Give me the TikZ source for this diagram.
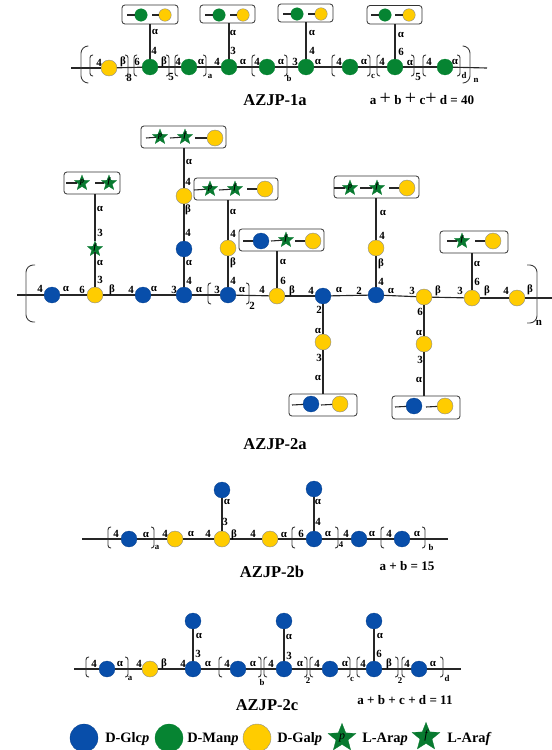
\documentclass[tikz,border=0pt]{standalone}
\usepackage{fontspec}
\setmainfont{Liberation Serif}
\usetikzlibrary{shapes.geometric}
\definecolor{cglc}{RGB}{8,78,170}
\definecolor{cman}{RGB}{6,132,50}
\definecolor{cgal}{RGB}{255,204,0}
\definecolor{cara}{RGB}{8,122,48}
\newcommand{\stl}[1]{\makebox[0pt][c]{\raisebox{-.2ex}[0pt][0pt]{#1}}}
\tikzset{
  sugar/.style={circle,inner sep=0pt,outer sep=0pt,minimum size=12pt},
  glc/.style={sugar,fill=cglc,draw=cglc!80!black,line width=.2pt},
  man/.style={sugar,fill=cman,draw=cman,line width=.2pt},
  gal/.style={sugar,fill=cgal,draw=black!45,line width=.3pt},
  sm/.style={minimum size=9.4pt},
  ara/.style={star,star points=5,star point ratio=2.3,inner sep=0pt,outer sep=0pt,minimum size=12pt,fill=cara,draw=cara,line width=.2pt,text=black,font=\fontsize{6pt}{6pt}\itshape\bfseries\selectfont},
  bond/.style={line width=.85pt,black!85},
  stub/.style={line width=.8pt,black!85},
  brk/.style={line width=.7pt,black!80,rounded corners=2pt},
  obrk/.style={line width=.7pt,black!75,rounded corners=5.5pt},
  boxst/.style={draw=black!80,line width=.6pt,rounded corners=2.2pt,fill=white,inner sep=0pt,outer sep=0pt},
  lab/.style={inner sep=0pt,font=\fontsize{8.2pt}{9pt}\bfseries\selectfont},
  slab/.style={inner sep=0pt,font=\fontsize{6.6pt}{7pt}\bfseries\selectfont},
  ttl/.style={inner sep=0pt,font=\fontsize{12.4pt}{14pt}\bfseries\selectfont},
  fml/.style={inner sep=0pt,font=\fontsize{9.8pt}{11pt}\bfseries\selectfont},
  leg/.style={inner sep=0pt,anchor=west,font=\fontsize{10.8pt}{12pt}\bfseries\selectfont},
}
\newcommand{\bxx}[5]{\node[boxst,minimum width={(#4-#2)*0.75pt},minimum height={(#5-#3)*0.75pt}] (#1) at ({(#2+#4)/2},{(#3+#5)/2}) {};}
\newcommand{\stb}[4]{\coordinate (#1) at (#2,#3); \draw[stub] (#1) -- (#4);}
\newcommand{\bl}[3]{\draw[brk] (#1+3,#2) -- (#1,#2) -- (#1,#3) -- (#1+3,#3);}
\newcommand{\br}[3]{\draw[brk] (#1-3,#2) -- (#1,#2) -- (#1,#3) -- (#1-3,#3);}
\newcommand{\bpl}{{\fontsize{15pt}{15pt}\selectfont\mdseries\,+\,}}
\begin{document}
\begin{tikzpicture}[x=0.75pt,y=-0.75pt]
\useasboundingbox (0,0) rectangle (552,750);
% ---------- AZJP-1a
\coordinate (as) at (71,68); \coordinate (ae) at (487,68);
\node[gal] (a1) at (109,68) {};
\node[man] (a2) at (150,67) {};
\node[man] (a3) at (189,67) {};
\node[man] (a4) at (229,67) {};
\node[man] (a5) at (267,67) {};
\node[man] (a6) at (306,67) {};
\node[man] (a7) at (350,67) {};
\node[man] (a8) at (395,67) {};
\node[man] (a9) at (445,67) {};
\foreach \p/\q in {as/a1,a1/a2,a2/a3,a3/a4,a4/a5,a5/a6,a6/a7,a7/a8,a8/a9,a9/ae} \draw[bond] (\p) -- (\q);
\bxx{ab1}{122}{5}{178}{24}
\node[man,sm] (ab1a) at (141,15) {}; \node[gal,sm] (ab1b) at (165,15) {};
\stb{ab1c}{127}{15}{ab1a}\stb{ab1d}{152}{15}{ab1b}
\bxx{ab2}{200}{5}{255}{23}
\node[man,sm] (ab2a) at (219,15) {}; \node[gal,sm] (ab2b) at (243,15) {};
\stb{ab2c}{205}{15}{ab2a}\stb{ab2d}{230}{15}{ab2b}
\bxx{ab3}{278}{4}{333}{22}
\node[man,sm] (ab3a) at (297,14) {}; \node[gal,sm] (ab3b) at (321,14) {};
\stb{ab3c}{283}{14}{ab3a}\stb{ab3d}{308}{14}{ab3b}
\bxx{ab4}{367}{5.5}{422}{24}
\node[man,sm] (ab4a) at (385,15) {}; \node[gal,sm] (ab4b) at (409,15) {};
\stb{ab4c}{371}{15}{ab4a}\stb{ab4d}{395}{15}{ab4b}
\draw[bond] (a2) -- (a2|-ab1.south);
\draw[bond] (a4) -- (a4|-ab2.south);
\draw[bond] (a6) -- (a6|-ab3.south);
\draw[bond] (a8) -- (a8|-ab4.south);
\foreach \x/\y/\t in {99/63/4,123/62/β,137/62/6,154/51/4,155/32/α,164/62/β,178/62/4,201/62/α,217/62/4,243/62/α,257/62/4,281/62/α,295/62/3,233/33/α,233/51/3,312/33/α,312/51/4,318/62/α,339/62/4,364/62/α,382/62/4,401/52/6,401/35/α,410/63/α,429/62/4,455/62/α,129/78/8,171/77/5,418/77/5}
  \node[lab] (la\x-\y) at (\x,\y) {\t};
\foreach \x/\y/\t in {210/76/a,289/78/b,373/76/c,464/75/d,476/80/n}
  \node[slab] (la\x-\y) at (\x,\y) {\t};
\foreach \x in {90,134,175,252,332,377,423} {\bl{\x}{55}{76}}
\foreach \x in {128,169,206,287,370,414,460} {\br{\x}{55}{76}}
\draw[obrk] (88,46) -- (81,46) -- (81,83) -- (88,83);
\draw[obrk] (463,46) -- (470,46) -- (470,83) -- (463,83);
\node[ttl] (ta) at (275,100) {AZJP-1a};
\node[fml] (fa) at (422,99) {a\bpl b\bpl c{\fontsize{15pt}{15pt}\selectfont\mdseries +} d = 40};
% ---------- AZJP-2a
\coordinate (bs) at (17,295); \coordinate (be) at (552,298);
\node[glc] (b1) at (52,295) {};
\node[gal] (b2) at (95,295) {};
\node[glc] (b3) at (143,295) {};
\node[glc] (b4) at (184,295) {};
\node[glc] (b5) at (228,295) {};
\node[gal] (b6) at (277,296) {};
\node[glc] (b7) at (323,296) {};
\node[glc] (b8) at (376,295) {};
\node[gal] (b9) at (424,297) {};
\node[gal] (b10) at (472,298) {};
\node[gal] (b11) at (517,298) {};
\foreach \p/\q in {bs/b1,b1/b2,b2/b3,b3/b4,b4/b5,b5/b6,b6/b7,b7/b8,b8/b9,b9/b10,b10/b11,b11/be} \draw[bond] (\p) -- (\q);
% branch at b2
\node[ara] (c1) at (95,249) {\stl{f}};
\bxx{bb1}{64}{172}{120}{194}
\node[ara] (bb1a) at (82,183) {\stl{p}}; \node[ara] (bb1b) at (109,183) {\stl{f}};
\stb{bb1c}{66}{183}{bb1a}\stb{bb1d}{95}{183}{bb1b}
\draw[bond] (b2) -- (c1); \draw[bond] (c1) -- (c1|-bb1.south);
% branch at b4
\node[glc] (c2) at (184,249) {};
\node[gal] (c3) at (184,196) {};
\bxx{bb2}{141}{126}{226}{148}
\node[ara] (bb2a) at (160,137) {\stl{p}}; \node[ara] (bb2b) at (185,137) {\stl{f}}; \node[gal] (bb2e) at (215,138) {};
\stb{bb2c}{146}{138}{bb2a}\stb{bb2d}{170}{138}{bb2b}\stb{bb2f}{195}{138}{bb2e}
\draw[bond] (b4) -- (c2); \draw[bond] (c2) -- (c3); \draw[bond] (c3) -- (c3|-bb2.south);
% branch at b5
\node[gal] (c4) at (228,248) {};
\bxx{bb3}{194}{178}{278}{200}
\node[ara] (bb3a) at (210,189) {\stl{p}}; \node[ara] (bb3b) at (235,189) {\stl{f}}; \node[gal] (bb3e) at (265,189) {};
\stb{bb3c}{194}{190}{bb3a}\stb{bb3d}{219}{190}{bb3b}\stb{bb3f}{247}{189}{bb3e}
\draw[bond] (b5) -- (c4); \draw[bond] (c4) -- (c4|-bb3.south);
% branch at b6
\bxx{bb4}{239}{229}{324}{251}
\node[glc] (bb4a) at (261,241) {}; \node[ara] (bb4b) at (286,240) {\stl{f}}; \node[gal] (bb4e) at (313,241) {};
\stb{bb4c}{243}{241}{bb4a}\stb{bb4d}{271}{241}{bb4b}\stb{bb4f}{295}{241}{bb4e}
\draw[bond] (b6) -- (b6|-bb4.south);
% branch at b8
\node[gal] (c5) at (376,248) {};
\bxx{bb5}{334}{176}{419}{198}
\node[ara] (bb5a) at (350,188) {\stl{p}}; \node[ara] (bb5b) at (377,188) {\stl{f}}; \node[gal] (bb5e) at (407,188) {};
\stb{bb5c}{334}{188}{bb5a}\stb{bb5d}{360}{188}{bb5b}\stb{bb5f}{389}{188}{bb5e}
\draw[bond] (b8) -- (c5); \draw[bond] (c5) -- (c5|-bb5.south);
% branch at b10
\bxx{bb6}{440}{231}{508}{253}
\node[ara] (bb6a) at (462,241) {\stl{f}}; \node[gal] (bb6b) at (493,241) {};
\stb{bb6c}{447}{241}{bb6a}\stb{bb6d}{475}{241}{bb6b}
\draw[bond] (b10) -- (b10|-bb6.south);
% lower branches
\node[gal] (c6) at (323,342) {};
\bxx{bb7}{289}{394}{357}{416}
\node[glc] (bb7a) at (311,404) {}; \node[gal] (bb7b) at (340,404) {};
\stb{bb7c}{292}{405}{bb7a}\stb{bb7d}{321}{405}{bb7b}
\draw[bond] (b7) -- (c6); \draw[bond] (c6) -- (c6|-bb7.north);
\node[gal] (c7) at (424,344) {};
\bxx{bb8}{392}{396}{460}{419}
\node[glc] (bb8a) at (414,406) {}; \node[gal] (bb8b) at (445,406) {};
\stb{bb8c}{395}{407}{bb8a}\stb{bb8d}{426}{407}{bb8b}
\draw[bond] (b9) -- (c7); \draw[bond] (c7) -- (c7|-bb8.north);
\foreach \x/\y/\t in {40/289/4,66/289/α,82/290/6,100/280/3,100/263/α,100/233/3,100/209/α,112/290/β,131/290/4,154/289/α,174/290/3,189/281/4,189/263/α,188/233/4,188/210/β,188/182/4,189/162/α,199/290/α,217/290/3,233/281/4,233/263/β,233/234/4,233/212/α,242/290/α,252/306/2,262/290/4,283/281/6,283/262/α,292/291/β,311/291/4,339/290/α,359/291/2,381/282/4,381/264/β,382/236/4,383/213/α,391/291/α,412/291/3,438/291/β,460/291/3,477/282/6,477/264/α,487/291/β,506/291/4,530/290/β,319/310/2,420/312/6,539/323/n,318/331/α,319/358/3,318/378/α,419/333/α,420/360/3,419/380/α}
  \node[lab] (lb\x-\y) at (\x,\y) {\t};
\bl{208}{283}{304}\br{249}{283}{304}
\draw[obrk] (35,265) -- (26,265) -- (26,322) -- (35,322);
\draw[obrk] (527,265) -- (537,265) -- (537,323) -- (527,323);
\node[ttl] (tb) at (275,444) {AZJP-2a};
% ---------- AZJP-2b
\coordinate (ds) at (82,539); \coordinate (de) at (448,539);
\node[glc] (d1) at (129,539) {};
\node[gal] (d2) at (175,539) {};
\node[gal] (d3) at (222,539) {};
\node[gal] (d4) at (270,539) {};
\node[glc] (d5) at (314,539) {};
\node[glc] (d6) at (359,539) {};
\node[glc] (d7) at (402,539) {};
\node[glc] (d8) at (222,490) {};
\node[glc] (d9) at (314,489) {};
\foreach \p/\q in {ds/d1,d1/d2,d2/d3,d3/d4,d4/d5,d5/d6,d6/d7,d7/de,d3/d8,d5/d9} \draw[bond] (\p) -- (\q);
\foreach \x/\y/\t in {116/534/4,146/535/α,165/534/4,191/534/α,208/534/4,234/535/β,253/534/4,284/535/α,301/534/6,328/534/α,346/534/4,372/534/α,389/534/4,417/534/α,225/522/3,227/502/α,318/522/4,318/502/α}
  \node[lab] (ld\x-\y) at (\x,\y) {\t};
\foreach \x/\y/\t in {157/547/a,341/545/4,431/547/b}
  \node[slab] (ld\x-\y) at (\x,\y) {\t};
\foreach \x in {108,292,381} {\bl{\x}{527}{548}}
\foreach \x in {154,338,425} {\br{\x}{527}{548}}
\node[ttl] (td) at (272,572) {AZJP-2b};
\node[fml] (fd) at (407,566) {a + b = 15};
% ---------- AZJP-2c
\coordinate (es) at (74,669); \coordinate (ee) at (461,669);
\node[glc] (e1) at (107,669) {};
\node[gal] (e2) at (150,669) {};
\node[glc] (e3) at (193,669) {};
\node[glc] (e4) at (238,669) {};
\node[glc] (e5) at (284,669) {};
\node[glc] (e6) at (330,669) {};
\node[glc] (e7) at (374,669) {};
\node[glc] (e8) at (419,669) {};
\node[glc] (e9) at (193,621) {};
\node[glc] (e10) at (284,621) {};
\node[glc] (e11) at (374,621) {};
\foreach \p/\q in {es/e1,e1/e2,e2/e3,e3/e4,e4/e5,e5/e6,e6/e7,e7/e8,e8/ee,e3/e9,e5/e10,e7/e11} \draw[bond] (\p) -- (\q);
\foreach \x/\y/\t in {94/664/4,120/664/α,139/664/4,164/664/β,183/664/4,198/654/3,199/636/α,208/664/α,227/664/4,253/664/α,271/664/4,289/656/3,289/637/α,300/664/α,317/664/4,345/664/α,363/664/4,379/654/6,380/636/α,389/664/β,407/664/4,433/664/α}
  \node[lab] (le\x-\y) at (\x,\y) {\t};
\foreach \x/\y/\t in {130/678/a,262/682/b,308/681/2,352/679/c,400/681/2,447/678/d}
  \node[slab] (le\x-\y) at (\x,\y) {\t};
\foreach \x in {86,219,264,310,357,402} {\bl{\x}{657}{677}}
\foreach \x in {128,261,307,350,398,443} {\br{\x}{657}{677}}
\node[ttl] (te) at (267,705) {AZJP-2c};
\node[fml] (fe) at (405,700) {a + b + c + d = 11};
% ---------- legend
\node[glc,minimum size=21pt] (k1) at (84,738) {};
\node[leg] (k1t) at (105,739) {D-Glc\textit{p}};
\node[man,minimum size=21pt] (k2) at (169,738) {};
\node[leg] (k2t) at (187,739) {D-Man\textit{p}};
\node[gal,minimum size=21pt] (k3) at (257,738) {};
\node[leg] (k3t) at (277,739) {D-Gal\textit{p}};
\node[ara,minimum size=22pt,font=\fontsize{9pt}{9pt}\itshape\selectfont] (k4) at (342,738) {\stl{p}};
\node[leg] (k4t) at (362,739) {L-Ara\textit{p}};
\node[ara,minimum size=22pt,font=\fontsize{9pt}{9pt}\itshape\selectfont] (k5) at (426,737) {\stl{f}};
\node[leg] (k5t) at (447,739) {L-Ara\textit{f}};
\end{tikzpicture}
\end{document}
